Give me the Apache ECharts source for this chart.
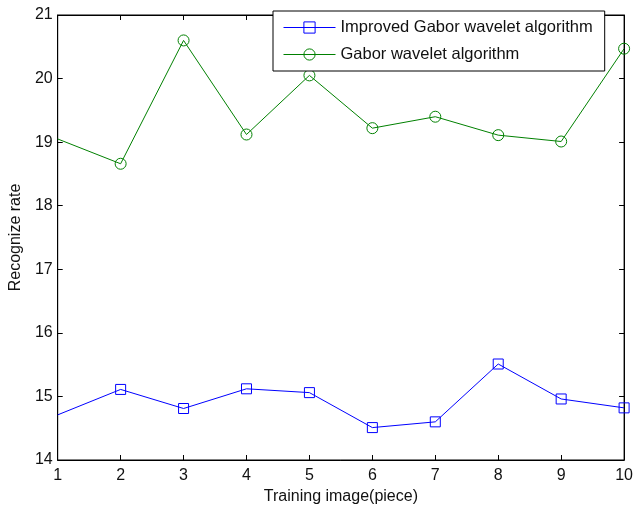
<!DOCTYPE html>
<html>
<head>
<meta charset="utf-8">
<script src="https://cdn.jsdelivr.net/npm/echarts@6/dist/echarts.min.js"></script>
<style>
  html, body { margin: 0; padding: 0; background: #fff; }
  #chart { width: 636px; height: 510px; }
</style>
</head>
<body>
<div id="chart"></div>
<script>
  // training images 1..10
  const trainImages = [1, 2, 3, 4, 5, 6, 7, 8, 9, 10];
  const improvedRate = [14.71, 15.11, 14.81, 15.12, 15.06, 14.51, 14.60, 15.51, 14.96, 14.82];
  const gaborRate = [19.05, 18.66, 20.60, 19.12, 20.05, 19.22, 19.40, 19.11, 19.01, 20.47];

  const font = "Liberation Sans, Arial, sans-serif";
  const chart = echarts.init(document.getElementById('chart'));

  // first point sits on the axis edge, no marker drawn there
  function toPoints(vals) {
    return vals.map((v, i) => i === 0 ? { value: [trainImages[i], v], symbol: 'none' } : [trainImages[i], v]);
  }

  const tickStyle = { show: true, inside: true, length: 5, lineStyle: { color: '#000', width: 1 } };

  chart.setOption({
    animation: false,
    textStyle: { fontFamily: font },
    grid: { left: 57, right: 10, top: 15, bottom: 49, show: true, borderColor: '#000', borderWidth: 1 },
    legend: {
      orient: 'vertical',
      left: 273,
      top: 11,
      width: 329,
      padding: [8, 12, 8, 10],
      itemWidth: 52,
      itemHeight: 14,
      itemGap: 10,
      backgroundColor: '#fff',
      borderColor: '#000',
      borderWidth: 1,
      lineStyle: { width: 1 },
      itemStyle: { borderWidth: 1 },
      textStyle: { fontFamily: font, fontSize: 16.5, color: '#111' },
      data: ['Improved Gabor wavelet algorithm', 'Gabor wavelet algorithm']
    },
    xAxis: [
      {
        type: 'value', min: 1, max: 10, interval: 1,
        name: 'Training image(piece)', nameLocation: 'middle', nameGap: 29,
        nameTextStyle: { fontSize: 16, color: '#111' },
        axisLine: { show: true, onZero: false, lineStyle: { color: '#000' } },
        axisTick: tickStyle,
        axisLabel: { fontSize: 16, color: '#111', margin: 8 },
        splitLine: { show: false }
      },
      {
        type: 'value', position: 'top', min: 1, max: 10, interval: 1,
        axisLine: { show: true, onZero: false, lineStyle: { color: '#000' } },
        axisTick: tickStyle, axisLabel: { show: false }, splitLine: { show: false }
      }
    ],
    yAxis: [
      {
        type: 'value', min: 14, max: 21, interval: 1,
        name: 'Recognize rate', nameLocation: 'middle', nameGap: 33,
        nameTextStyle: { fontSize: 16, color: '#111' },
        axisLine: { show: true, onZero: false, lineStyle: { color: '#000' } },
        axisTick: tickStyle,
        axisLabel: { fontSize: 16, color: '#111', margin: 5 },
        splitLine: { show: false }
      },
      {
        type: 'value', position: 'right', min: 14, max: 21, interval: 1,
        axisLine: { show: true, onZero: false, lineStyle: { color: '#000' } },
        axisTick: tickStyle, axisLabel: { show: false }, splitLine: { show: false }
      }
    ],
    series: [
      {
        name: 'Improved Gabor wavelet algorithm',
        type: 'line',
        data: toPoints(improvedRate),
        symbol: 'rect',
        symbolSize: 10,
        showAllSymbol: true,
        lineStyle: { color: '#0000ff', width: 1 },
        itemStyle: { color: 'rgba(0,0,0,0)', borderColor: '#0000ff', borderWidth: 1 }
      },
      {
        name: 'Gabor wavelet algorithm',
        type: 'line',
        data: toPoints(gaborRate),
        symbol: 'circle',
        symbolSize: 11,
        showAllSymbol: true,
        lineStyle: { color: '#008000', width: 1 },
        itemStyle: { color: 'rgba(0,0,0,0)', borderColor: '#008000', borderWidth: 1 }
      }
    ]
  });
</script>
</body>
</html>
